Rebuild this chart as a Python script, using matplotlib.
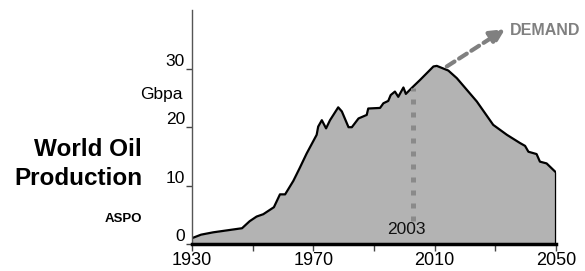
import matplotlib
matplotlib.use("Agg")
import matplotlib.pyplot as plt
import numpy as np

# world oil production (Gbpa), ASPO projection
years = [1930, 1933, 1937, 1946.5, 1949, 1951.3, 1953.5, 1957, 1959, 1960.7,
         1963.4, 1965.5, 1967.8, 1971.1, 1971.6, 1972.8, 1973.3, 1974.2, 1975.5,
         1978.2, 1979.4, 1981.6, 1982.7, 1984.9, 1987.6, 1988.1, 1992, 1993.1,
         1994.7, 1995.5, 1996.9, 1998, 1999.7, 2000.5, 2002.4, 2005.2, 2009.6,
         2010.7, 2014.5, 2017.3, 2023.9, 2029.3, 2033.8, 2038.1, 2039.8, 2040.9,
         2043.6, 2044.7, 2046.9, 2049.7, 2050, 2050]
production = [1.0, 1.6, 2.0, 2.7, 3.9, 4.7, 5.1, 6.3, 8.5, 8.5,
              10.8, 13.0, 15.5, 18.7, 20.1, 21.2, 20.7, 19.8, 21.2,
              23.4, 22.7, 20.0, 20.0, 21.5, 22.1, 23.2, 23.3, 24.1,
              24.5, 25.5, 26.1, 25.2, 26.8, 25.7, 26.7, 28.1, 30.4,
              30.5, 29.7, 28.4, 24.4, 20.4, 18.7, 17.3, 16.8, 15.8,
              15.4, 14.1, 13.8, 12.4, 12.3, 0.0]
xticks = [1930, 1970, 2010, 2050]
xminor = [1950, 1990, 2030]
yticks = [0, 10, 20, 30]

marker_year = 2003
marker_top = 26.7
demand_start = (2014, 30.4)
demand_end = (2033.2, 36.8)

plt.rcParams['font.family'] = ['Liberation Sans', 'DejaVu Sans']

fig = plt.figure(figsize=(5.85, 2.71), dpi=100)
W, H = 585, 271
ax = fig.add_axes([192 / W, (H - 244) / H, (556 - 192) / W, (244 - 10.4) / H])

x = np.array(years)
y = np.array(production)
ax.fill_between(x, 0, y, color='#b3b3b3', linewidth=0)
ax.plot(x, y, color='black', lw=1.6, solid_joinstyle='round')

# 2003 marker
ax.plot([marker_year, marker_year], [4.0, marker_top], color='#8a8a8a', lw=3.6,
        linestyle=(0, (1, 1.6)), solid_capstyle='butt', dash_capstyle='butt')
ax.text(marker_year - 2.4, 2.4, '2003', ha='center', va='center', fontsize=12.5, color='#111111')

# demand arrow
ax.annotate('', xy=demand_end, xytext=demand_start,
            arrowprops=dict(arrowstyle='-|>', color='#808080', lw=3,
                            linestyle=(0, (2.2, 1.3)), mutation_scale=22,
                            shrinkA=0, shrinkB=0),
            annotation_clip=False)
ax.text(2034.8, 36.6, 'DEMAND', ha='left', va='center', fontsize=11.5,
        fontweight='bold', color='#808080', clip_on=False)

ax.set_xlim(1930, 2050)
ax.set_ylim(0, 40)
ax.set_xticks(xticks)
ax.set_xticks(xminor, minor=True)
ax.set_yticks(yticks)
ax.tick_params(axis='x', which='both', length=5, width=1, color='#444444',
               labelsize=13, pad=1)
ax.tick_params(axis='y', length=4, width=1, color='#444444', labelsize=12.5, pad=1)
for lab in ax.get_yticklabels():
    lab.set_va('bottom')

for s in ['top', 'right']:
    ax.spines[s].set_visible(False)
ax.spines['left'].set_color('#555555')
ax.spines['left'].set_linewidth(1)
ax.spines['bottom'].set_color('black')
ax.spines['bottom'].set_linewidth(2.5)
ax.set_facecolor('none')

fig.text(183 / W, 1 - 95 / H, 'Gbpa', ha='right', va='center', fontsize=12.5)
fig.text(142 / W, 1 - 156 / H, 'World Oil', ha='right', va='baseline',
         fontsize=17.5, fontweight='bold')
fig.text(142 / W, 1 - 185 / H, 'Production', ha='right', va='baseline',
         fontsize=17.5, fontweight='bold')
fig.text(142 / W, 1 - 222 / H, 'ASPO', ha='right', va='baseline',
         fontsize=9.5, fontweight='bold')

fig.savefig('out.png', dpi=100)
